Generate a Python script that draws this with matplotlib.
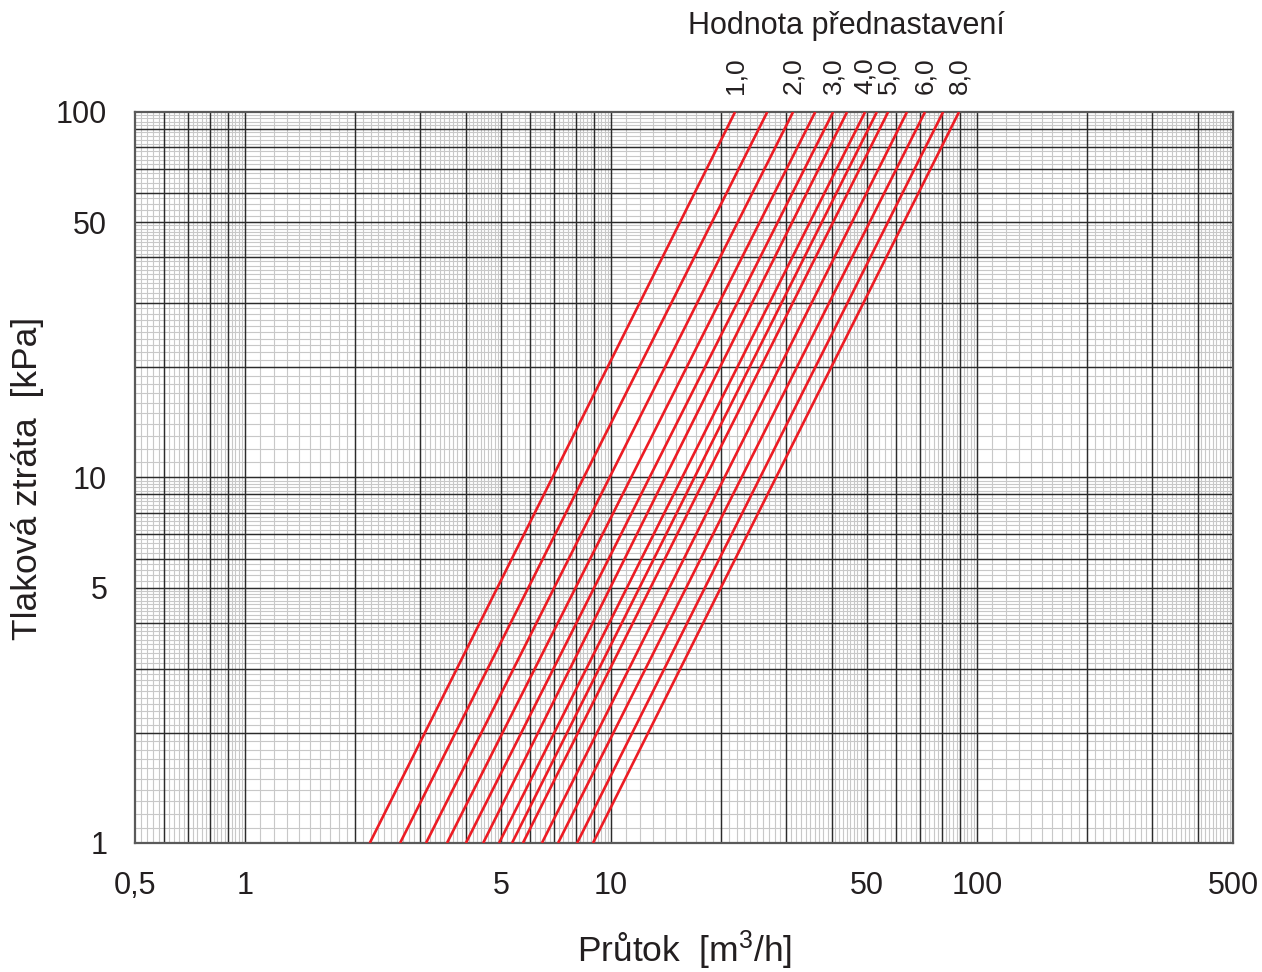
import numpy as np
import matplotlib
matplotlib.use("Agg")
import matplotlib.pyplot as plt
from matplotlib.ticker import FixedLocator, FixedFormatter

plt.rcParams['font.family'] = ['Liberation Sans', 'DejaVu Sans']
plt.rcParams['mathtext.fontset'] = 'custom'
plt.rcParams['mathtext.rm'] = 'Liberation Sans'
plt.rcParams['mathtext.default'] = 'regular'

# ---- data ----
settings = ['1,0', '1,5', '2,0', '2,5', '3,0', '3,5', '4,0', '4,5', '5,0', '5,5', '6,0', '7,0', '8,0']
labeled_settings = ['1,0', '2,0', '3,0', '4,0', '5,0', '6,0', '8,0']
dp_ends = [1, 100]                       # kPa, ends of each line
q_at_1kpa = [2.19, 2.65, 3.12, 3.56, 4.01, 4.47, 4.94, 5.36, 5.74, 6.47, 7.16, 8.07, 8.92]
q_at_100kpa = [21.8, 26.7, 31.4, 36.1, 40.4, 44.1, 49.4, 53.2, 57.1, 64.3, 72.0, 80.7, 89.2]

x_tick_values = [0.5, 1, 5, 10, 50, 100, 500]
x_tick_labels = ['0,5', '1', '5', '10', '50', '100', '500']
y_tick_values = [1, 5, 10, 50, 100]
y_tick_labels = ['1', '5', '10', '50', '100']

x_range = (0.5, 500)
y_range = (1, 100)

title_top = 'Hodnota přednastavení'
x_label = 'Průtok  [m$^3$/h]'
y_label = 'Tlaková ztráta  [kPa]'

TXT = '#231f20'


def grid_positions(lo, hi):
    major, minor = [], []
    for e in range(-2, 4):
        d = 10.0 ** e
        for k in range(1, 10):
            v = k * d
            if lo + 1e-9 < v < hi - 1e-9:
                major.append(v)
            step = 0.1 if k < 5 else 0.2
            for s in np.arange(k + step, k + 1 - 1e-9, step):
                w = s * d
                if lo < w < hi:
                    minor.append(w)
    return major, minor


fig = plt.figure(figsize=(12.62, 9.72), dpi=100)
ax = fig.add_axes([135 / 1262, 1 - 843 / 972, (1233 - 135) / 1262, (843 - 112) / 972])
ax.set_xscale('log')
ax.set_yscale('log')
ax.set_xlim(*x_range)
ax.set_ylim(*y_range)

xmaj, xmin = grid_positions(*x_range)
ymaj, ymin = grid_positions(*y_range)

# log-paper grid: light minor lines first, dark major lines over them
xt = ax.get_xaxis_transform()
yt = ax.get_yaxis_transform()
ax.vlines(xmin, 0, 1, transform=xt, colors='#c8c8c8', linewidth=0.8, zorder=0.5)
ax.hlines(ymin, 0, 1, transform=yt, colors='#c8c8c8', linewidth=0.8, zorder=0.5)
ax.vlines(xmaj, 0, 1, transform=xt, colors='#2b2b2b', linewidth=1.05, zorder=0.8)
ax.hlines(ymaj, 0, 1, transform=yt, colors='#2b2b2b', linewidth=1.05, zorder=0.8)

ax.xaxis.set_major_locator(FixedLocator(x_tick_values))
ax.xaxis.set_major_formatter(FixedFormatter(x_tick_labels))
ax.xaxis.set_minor_locator(FixedLocator([]))
ax.yaxis.set_major_locator(FixedLocator(y_tick_values))
ax.yaxis.set_major_formatter(FixedFormatter(y_tick_labels))
ax.yaxis.set_minor_locator(FixedLocator([]))

ax.tick_params(which='both', length=0)
ax.tick_params(axis='x', pad=20, labelsize=22, colors=TXT)
ax.tick_params(axis='y', pad=20, labelsize=22, colors=TXT)
for sp in ax.spines.values():
    sp.set_color('#5a5a5a')
    sp.set_linewidth(1.6)
    sp.set_zorder(2)

for name, q1, q100 in zip(settings, q_at_1kpa, q_at_100kpa):
    ax.plot([q1, q100], dp_ends, color='#ec1c24', linewidth=1.9, solid_capstyle='butt', zorder=3)
    if name in labeled_settings:
        ax.annotate(name, xy=(q100, dp_ends[1]), xytext=(0, 13), textcoords='offset points',
                    rotation=90, ha='center', va='bottom', fontsize=19, color=TXT,
                    annotation_clip=False)

fig.text(846 / 1262, 1 - 26 / 972, title_top, ha='center', va='center', fontsize=22, color=TXT)
fig.text(684 / 1262, 1 - 950 / 972, x_label, ha='center', va='center', fontsize=25.5, color=TXT)
fig.text(28 / 1262, 1 - 478 / 972, y_label, ha='center', va='center', rotation=90,
         fontsize=25.5, color=TXT)

fig.savefig('out.png', dpi=100)
